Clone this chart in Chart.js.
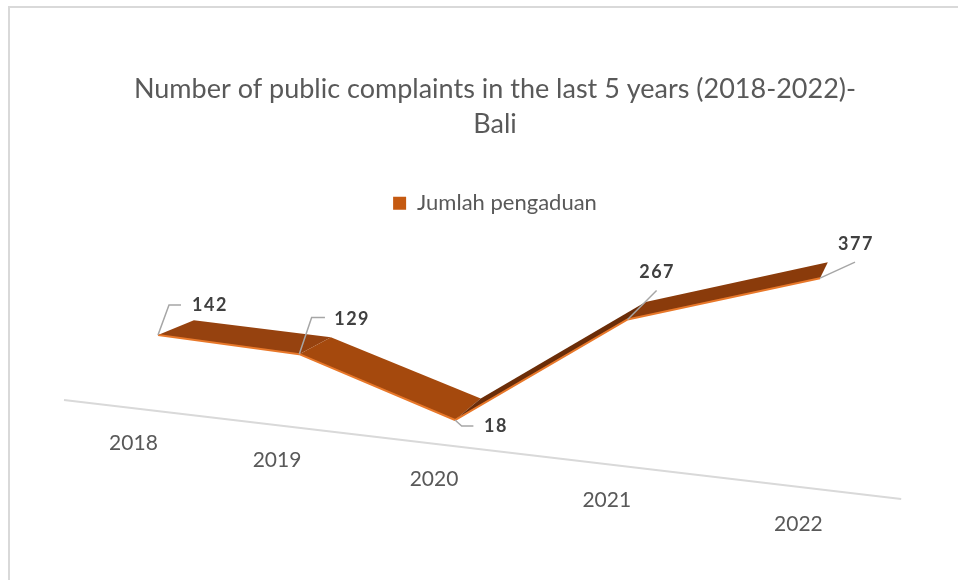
<!DOCTYPE html>
<html><head><meta charset="utf-8">
<script src="https://cdn.jsdelivr.net/npm/chart.js@4.4.1/dist/chart.umd.min.js"></script>
<style>html,body{margin:0;padding:0;background:#fff;overflow:hidden}canvas{display:block}</style>
</head><body>
<canvas id="c" width="958" height="580"></canvas>
<script>
// ---- data ----
const categories = ['2018', '2019', '2020', '2021', '2022'];
const complaints = [142, 129, 18, 267, 377];
const seriesLabel = 'Jumlah pengaduan';
const chartTitle = ['Number of public complaints in the last 5 years (2018-2022)-', 'Bali'];
const valueMin = 0;
const valueMax = 400;

// ---- layout / style (not data) ----
const wallQuad = { bl: [92.2, 386.4], br: [924.7, 482.5], tr: [924.7, 272.5], tl: [92.2, 224.2] };
const vanishPoint = [955, 3];
const ribbonDepth = [0.045, 0.058];      // depth fraction toward vanishing point, left..right
const floorFront = [0.035, 0.040];       // axis line in front of the ribbon
const axisSpan = [0.003, 0.98];
const segColors = ['#96420f', '#a5490d', '#6b2d08', '#8a3b0b'];
const edgeColor = '#e8782a';
const callouts = [
  { path: [[11, -30], [23, -30]], text: [34, -30], align: 'left' },
  { path: [[12.4, -36.7], [25.7, -36.7]], text: [35, -35], align: 'left' },
  { path: [[6.7, 6], [18.4, 6]], text: [29, 6], align: 'left' },
  { path: [[29, -29]], text: [29.5, -47], align: 'center' },
  { path: [[35, -16]], text: [36, -34], align: 'center' }
];

function makeHomography(q) {
  const [x0, y0] = q.bl, [x1, y1] = q.br, [x2, y2] = q.tr, [x3, y3] = q.tl;
  const dx1 = x1 - x2, dx2 = x3 - x2, dx3 = x0 - x1 + x2 - x3;
  const dy1 = y1 - y2, dy2 = y3 - y2, dy3 = y0 - y1 + y2 - y3;
  const den = dx1 * dy2 - dx2 * dy1;
  const g = (dx3 * dy2 - dx2 * dy3) / den;
  const h = (dx1 * dy3 - dx3 * dy1) / den;
  const a = x1 - x0 + g * x1, b = x3 - x0 + h * x3, c = x0;
  const d = y1 - y0 + g * y1, e = y3 - y0 + h * y3, f = y0;
  return (u, v) => { const w = g * u + h * v + 1; return [(a * u + b * v + c) / w, (d * u + e * v + f) / w]; };
}
const H = makeHomography(wallQuad);
const lerp = (a, b, t) => a + (b - a) * t;
const toward = (p, k) => [p[0] + k * (vanishPoint[0] - p[0]), p[1] + k * (vanishPoint[1] - p[1])];

const perspectivePlugin = {
  id: 'perspective',
  afterDatasetsDraw(chart) {
    const ctx = chart.ctx, ca = chart.chartArea;
    const meta = chart.getDatasetMeta(0);
    const toUV = (px, py) => [(px - ca.left) / (ca.right - ca.left), (ca.bottom - py) / (ca.bottom - ca.top)];
    ctx.save();
    // floor front axis line
    const axisPt = (u) => toward(H(u, 0), -lerp(floorFront[0], floorFront[1], u));
    const a0 = axisPt(axisSpan[0]), a1 = axisPt(axisSpan[1]);
    ctx.strokeStyle = '#d9d9d9'; ctx.lineWidth = 2;
    ctx.beginPath(); ctx.moveTo(a0[0], a0[1]); ctx.lineTo(a1[0], a1[1]); ctx.stroke();
    // category labels
    ctx.fillStyle = '#595959'; ctx.font = '21px Lato'; ctx.textAlign = 'center'; ctx.textBaseline = 'middle';
    const xs = chart.scales.x;
    categories.forEach((lab, i) => {
      const u = (xs.getPixelForValue(i) - ca.left) / (ca.right - ca.left);
      const p = axisPt(u);
      ctx.fillText(lab, p[0] + 4 - 25 * u * u, p[1] + 35);
    });
    // ribbon
    const front = [], back = [];
    meta.data.forEach((el) => {
      const [u, v] = toUV(el.x, el.y);
      const F = H(u, v);
      front.push(F);
      back.push(toward(F, lerp(ribbonDepth[0], ribbonDepth[1], (u - 0.1) / 0.8)));
    });
    for (let i = 0; i < front.length - 1; i++) {
      ctx.fillStyle = segColors[i];
      ctx.beginPath();
      ctx.moveTo(front[i][0], front[i][1]); ctx.lineTo(front[i + 1][0], front[i + 1][1]);
      ctx.lineTo(back[i + 1][0], back[i + 1][1]); ctx.lineTo(back[i][0], back[i][1]);
      ctx.closePath(); ctx.fill();
    }
    ctx.strokeStyle = edgeColor; ctx.lineWidth = 2; ctx.lineJoin = 'round';
    ctx.beginPath();
    front.forEach((p, i) => i ? ctx.lineTo(p[0], p[1]) : ctx.moveTo(p[0], p[1]));
    ctx.stroke();
    // data callouts
    ctx.strokeStyle = '#a6a6a6'; ctx.lineWidth = 1.5; ctx.lineJoin = 'miter';
    ctx.fillStyle = '#404040'; ctx.font = 'bold 18px Lato'; ctx.letterSpacing = '1.5px';
    front.forEach((p, i) => {
      const c = callouts[i];
      ctx.beginPath(); ctx.moveTo(p[0], p[1]);
      c.path.forEach(q => ctx.lineTo(p[0] + q[0], p[1] + q[1]));
      ctx.stroke();
      ctx.textAlign = c.align; ctx.textBaseline = 'middle';
      ctx.fillText(String(complaints[i]), p[0] + c.text[0], p[1] + c.text[1]);
    });
    ctx.letterSpacing = '0px';
    // chart border (top and left edges visible)
    ctx.strokeStyle = '#d9d9d9'; ctx.lineWidth = 2;
    ctx.beginPath(); ctx.moveTo(9, 600); ctx.lineTo(9, 7); ctx.lineTo(1000, 7); ctx.stroke();
    ctx.restore();
  }
};

new Chart(document.getElementById('c'), {
  type: 'line',
  data: {
    labels: categories,
    datasets: [{
      label: seriesLabel, data: complaints,
      borderColor: '#c55a11', backgroundColor: '#c55a11', borderWidth: 0,
      showLine: false, pointRadius: 0, pointHoverRadius: 0
    }]
  },
  options: {
    responsive: false, animation: false, devicePixelRatio: 1,
    layout: { padding: { left: 32, right: 0, top: 0, bottom: 0 } },
    events: [],
    scales: {
      x: { type: 'category', display: false, offset: true },
      y: { display: false, min: valueMin, max: valueMax }
    },
    plugins: {
      tooltip: { enabled: false },
      title: {
        display: true, text: chartTitle, color: '#595959',
        font: { family: 'Lato', size: 27, weight: 'normal', lineHeight: 1.3 },
        padding: { top: 72, bottom: 40 }
      },
      legend: {
        display: true, position: 'top',
        labels: { boxWidth: 13, boxHeight: 13, color: '#595959', font: { family: 'Lato', size: 22 } }
      }
    }
  },
  plugins: [perspectivePlugin]
});
</script>
</body></html>
